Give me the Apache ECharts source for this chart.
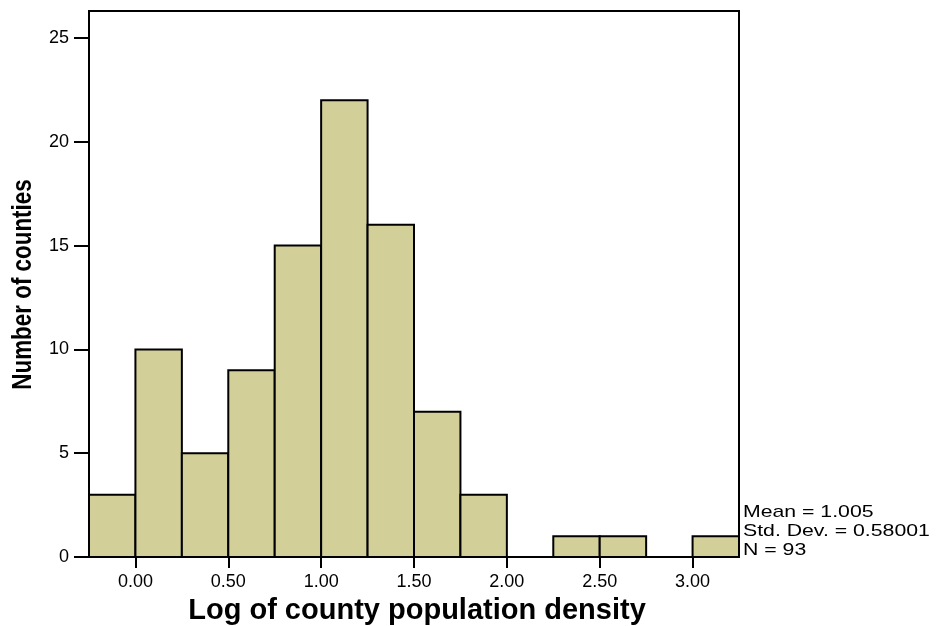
<!DOCTYPE html>
<html><head><meta charset="utf-8">
<script src="https://cdn.jsdelivr.net/npm/echarts@6/dist/echarts.min.js"></script>
<style>html,body{margin:0;padding:0;background:#fff}#c{width:936px;height:626px}</style>
</head><body><div id="c"></div>
<script>
const binStarts = [-0.25,0,0.25,0.5,0.75,1,1.25,1.5,1.75,2,2.25,2.5,2.75,3];
const binWidth = 0.25;
const counts = [3,10,5,9,15,22,16,7,3,0,1,1,0,1];
const xTicks = [0,0.5,1,1.5,2,2.5,3];
const statsLines = ['Mean = 1.005','Std. Dev. = 0.58001','N = 93'];
const xTitle = 'Log of county population density';
const yTitle = 'Number of counties';

const FONT = 'Liberation Sans, Arial, sans-serif';
const data = binStarts.map((s,i)=>[s, s+binWidth, counts[i]]);
const chart = echarts.init(document.getElementById('c'));
chart.setOption({
  animation:false,
  textStyle:{fontFamily:FONT},
  grid:{left:89,right:197,top:11,bottom:69,show:true,borderColor:'#000',borderWidth:2,backgroundColor:'transparent'},
  xAxis:{type:'value',min:-0.25,max:3.25,
    axisLine:{show:true,onZero:false,lineStyle:{color:'#000',width:2}},
    axisTick:{show:true,length:11,lineStyle:{color:'#000',width:2},customValues:xTicks},
    axisLabel:{customValues:xTicks,formatter:v=>v.toFixed(2),color:'#000',fontSize:18,margin:16},
    splitLine:{show:false}},
  yAxis:{type:'value',min:0,max:26.3,interval:5,
    axisLine:{show:true,onZero:false,lineStyle:{color:'#000',width:2}},
    axisTick:{show:true,length:15,lineStyle:{color:'#000',width:2}},
    axisLabel:{color:'#000',fontSize:18,margin:20,showMaxLabel:false},
    splitLine:{show:false}},
  series:[{type:'custom',
    renderItem:function(params,api){
      const x0=api.value(0),x1=api.value(1),v=api.value(2);
      const p0=api.coord([x0,v]);const p1=api.coord([x1,0]);
      return {type:'rect',shape:{x:p0[0],y:p0[1],width:p1[0]-p0[0],height:p1[1]-p0[1]},
        style:{fill:'#d3cf98',stroke:'#000',lineWidth:2}};
    },
    encode:{x:[0,1],y:2},
    data:data}],
  graphic:[
    {type:'text',x:743,y:503,scaleX:1.25,style:{text:statsLines.join('\n'),fontSize:17,lineHeight:19,fill:'#000',fontFamily:FONT}},
    {type:'text',x:417,y:611,style:{text:xTitle,fontSize:29,fontWeight:'bold',fill:'#000',fontFamily:FONT,textAlign:'center',textVerticalAlign:'middle'}},
    {type:'text',x:23,y:284.5,rotation:Math.PI/2,scaleX:0.8,style:{text:yTitle,fontSize:28,fontWeight:'bold',fill:'#000',fontFamily:FONT,textAlign:'center',textVerticalAlign:'middle'}}
  ]
});
</script></body></html>
